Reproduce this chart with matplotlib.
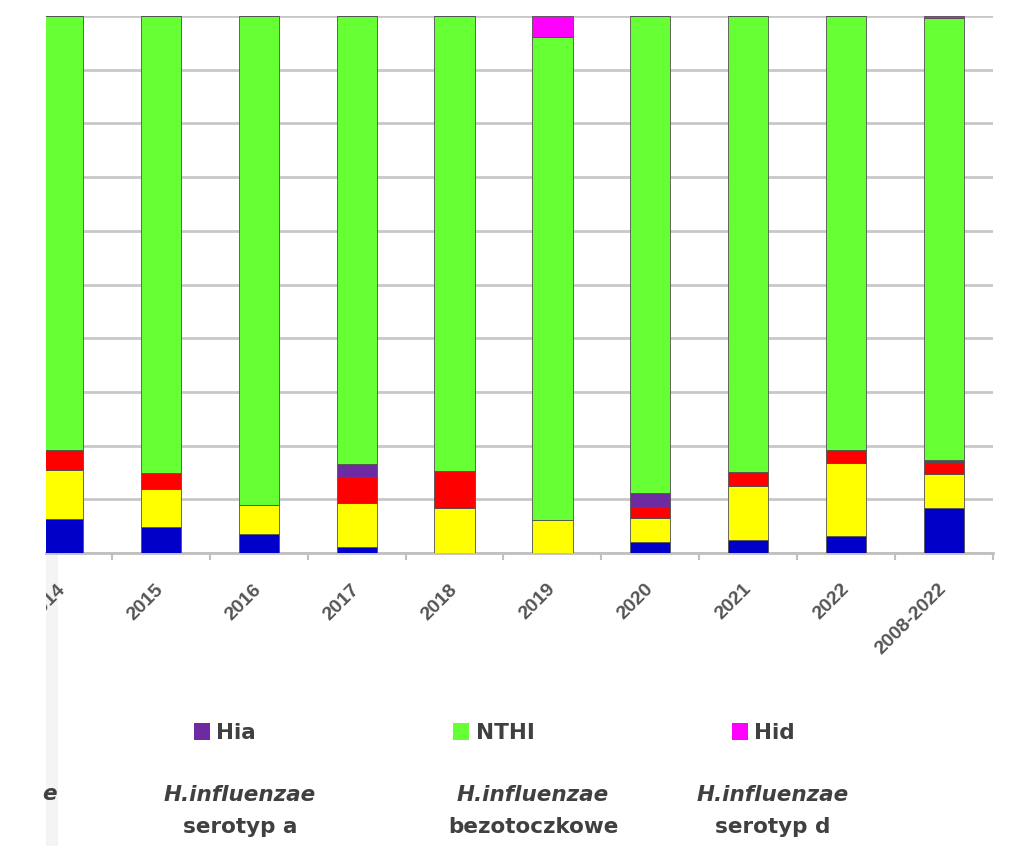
import matplotlib
matplotlib.use("Agg")
import matplotlib.pyplot as plt
import matplotlib.transforms as mtransforms
from matplotlib.patches import Patch, Rectangle
import numpy as np

# =========================
# DATA (% of isolates per year)
# =========================

YEARS = ["2014", "2015", "2016", "2017", "2018", "2019", "2020", "2021", "2022", "2008-2022"]

# bottom -> top stacking order
BLUE = [6.3, 4.8, 3.5, 1.1, 0.0, 0.0, 2.0, 2.4, 3.2, 8.4]
YELLOW = [9.1, 7.1, 5.4, 8.2, 8.4, 6.1, 4.6, 10.0, 13.6, 6.3]
RED = [3.7, 3.0, 0.0, 4.8, 6.9, 0.0, 1.9, 2.6, 2.4, 2.2]
HIA = [0.0, 0.0, 0.0, 2.4, 0.0, 0.0, 2.6, 0.0, 0.0, 0.4]
NTHI = [80.9, 85.1, 91.1, 83.5, 84.7, 90.0, 88.9, 85.0, 80.8, 82.3]
HID = [0.0, 0.0, 0.0, 0.0, 0.0, 3.9, 0.0, 0.0, 0.0, 0.4]

SERIES = [
    ("Hib", BLUE, "#0000c8"),
    ("Hie", YELLOW, "#ffff00"),
    ("Hif", RED, "#ff0000"),
    ("Hia", HIA, "#6e2aa0"),
    ("NTHI", NTHI, "#66ff33"),
    ("Hid", HID, "#ff00ff"),
]

LEGEND_SHOWN = ["Hia", "NTHI", "Hid"]
DESCRIPTIONS = ["serotyp a", "bezotoczkowe", "serotyp d"]

W, H = 1026, 846
TEXT_FONT = "DejaVu Sans"
TEXT_COLOR = "#404040"

# =========================
# PLOT
# =========================

fig = plt.figure(figsize=(W / 100, H / 100), dpi=100)
fig.patch.set_facecolor("white")

# faint edge of the cropped slide
fig.patches.append(Rectangle((46 / W, 0), 12 / W, 1 - 553 / H,
                             transform=fig.transFigure,
                             facecolor="#f4f4f4", edgecolor="none", zorder=-1))

ax = fig.add_axes([46 / W, 1 - 553 / H, (993 - 46) / W, (553 - 16) / H])

x = np.arange(len(YEARS))
bottom = np.zeros(len(YEARS))
handles = {}

for name, vals, color in SERIES:
    vals = np.array(vals)
    ax.bar(x, vals, width=0.41, bottom=bottom, color=color,
           edgecolor="#505050", linewidth=0.6, zorder=3)
    handles[name] = Patch(facecolor=color, edgecolor="none")
    bottom += vals

ax.set_xlim(-0.173, 9.5)
ax.set_ylim(0, 100)
ax.patch.set_alpha(0)

ax.set_yticks(range(0, 101, 10))
ax.set_yticklabels([])
ax.tick_params(axis="y", length=0)
ax.yaxis.grid(True, color="#c8c8c8", linewidth=2, zorder=0)
ax.set_axisbelow(True)

for side in ["top", "left", "right"]:
    ax.spines[side].set_visible(False)
ax.spines["bottom"].set_color("#c0c0c0")
ax.spines["bottom"].set_linewidth(2)

ax.set_xticks(x)
ax.set_xticklabels(YEARS, rotation=45, ha="right", va="top",
                   fontsize=14, fontweight="bold", color="#555555",
                   family="Liberation Sans")
ax.tick_params(axis="x", which="major", length=0, pad=20)
ax.set_xticks(np.arange(0.5, len(YEARS), 1.0), minor=True)
ax.tick_params(axis="x", which="minor", length=5, width=1.5, color="#c0c0c0")

shift = mtransforms.ScaledTranslation(6 / 100, 0, fig.dpi_scale_trans)
clip = mtransforms.TransformedBbox(
    mtransforms.Bbox.from_extents(46 / W, 0, 1, 1), fig.transFigure)
for lab in ax.get_xticklabels():
    lab.set_transform(lab.get_transform() + shift)
    lab.set_clip_box(clip)
    lab.set_clip_on(True)

# =========================
# LEGEND
# =========================

fig.legend(
    [handles[n] for n in LEGEND_SHOWN],
    LEGEND_SHOWN,
    loc="center left",
    bbox_to_anchor=(183 / W, 1 - 733 / H),
    ncol=3,
    frameon=False,
    handlelength=0.75,
    handleheight=0.85,
    handletextpad=0.3,
    columnspacing=9.15,
    borderpad=0,
    prop={"family": TEXT_FONT, "weight": "bold", "size": 15.5},
    labelcolor=TEXT_COLOR,
)

desc_x = [240, 533, 773]
for cx, desc in zip(desc_x, DESCRIPTIONS):
    fig.text(cx / W, 1 - 795 / H, "H.influenzae", ha="center", va="center",
             fontsize=15.5, fontweight="bold", style="italic",
             family=TEXT_FONT, color=TEXT_COLOR)
    fig.text(cx / W, 1 - 827 / H, desc, ha="center", va="center",
             fontsize=15.5, fontweight="bold", family=TEXT_FONT,
             color=TEXT_COLOR)

# tail of the cropped description on the far left
fig.text(50 / W, 1 - 794 / H, "e", ha="center", va="center",
         fontsize=15.5, fontweight="bold", style="italic",
         family=TEXT_FONT, color=TEXT_COLOR)

fig.savefig("out.png", dpi=100, facecolor=fig.get_facecolor())
